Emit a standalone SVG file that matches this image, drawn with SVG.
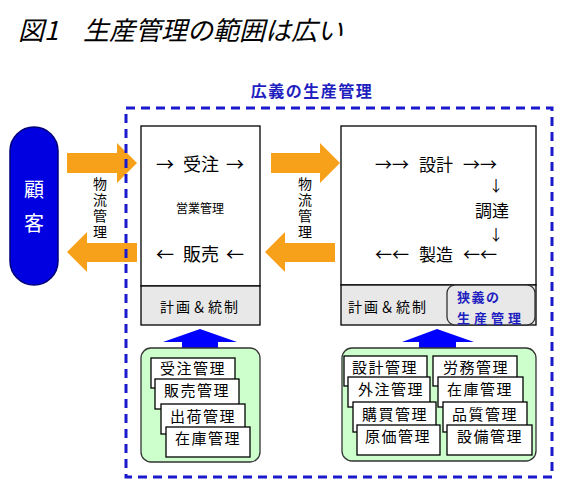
<svg xmlns="http://www.w3.org/2000/svg" width="567" height="481" viewBox="0 0 567 481">
<style>
text{font-family:"Noto Sans CJK JP","Liberation Sans",sans-serif;fill:#000}
.c{text-anchor:middle}
.box{fill:#fff;stroke:#000;stroke-width:1.3}
.plan{fill:#e8e8e8;stroke:#000;stroke-width:1.3}
.card{fill:#fff;stroke:#000;stroke-width:1.3}
.green{fill:#ccffcc;stroke:#333;stroke-width:1.3}
.orange{fill:#f7a11a}
.blueup{fill:#0000ff}
.ct{font-size:15px;letter-spacing:1.5px;text-anchor:middle}
.big{font-size:18px}
.mid{font-size:17px}
.arr{font-size:15px;text-anchor:middle}
.pl{font-size:14px;letter-spacing:2px;text-anchor:middle}
.blue{fill:#1f1fbf;font-weight:bold}
.v{font-size:14px;letter-spacing:2px;text-anchor:middle;writing-mode:vertical-rl}
</style>

<text x="18" y="40" style="font-size:26px;font-style:italic">図1<tspan x="83">生産管理の範囲は広い</tspan></text>
<text x="312" y="97" class="c blue" style="font-size:16px;letter-spacing:1.5px">広義の生産管理</text>

<g id="customer">
<rect x="10" y="127" width="48" height="158" rx="24" fill="#0000e0" stroke="#00007a" stroke-width="1.5"/>
<text x="34" y="197" class="c" style="font-size:20px;fill:#fff">顧</text>
<text x="34" y="231" class="c" style="font-size:20px;fill:#fff">客</text>
</g>

<g id="connectors">
<polygon class="orange" points="67,153 117,153 117,143 137,163 117,183 117,173 67,173"/>
<polygon class="orange" points="67,252 87,232 87,243 137,243 137,262 87,262 87,272"/>
<polygon class="orange" points="271,153 320,153 320,143 340,163 320,183 320,173 271,173"/>
<polygon class="orange" points="265,252 285,232 285,243 335,243 335,262 285,262 285,272"/>
<text class="v" x="100" y="209">物流管理</text>
<text class="v" x="305" y="209">物流管理</text>
<polygon class="blueup" points="200,329 237,342 218,342 218,348 182,348 182,342 163,342"/>
<polygon class="blueup" points="437,329 474,342 456,342 456,348 419,348 419,342 402,342"/>
</g>

<g id="sales">
<rect class="box" x="141" y="126" width="119" height="160"/>
<rect class="plan" x="141" y="286" width="119" height="39"/>
<text class="big c" y="171"><tspan x="165">→</tspan><tspan x="201">受注</tspan><tspan x="235">→</tspan></text>
<text x="200" y="213" class="c" style="font-size:12px">営業管理</text>
<text class="big c" y="261"><tspan x="165">←</tspan><tspan x="201">販売</tspan><tspan x="235">←</tspan></text>
<text x="200" y="312" class="pl">計画＆統制</text>
</g>

<g id="production">
<rect class="box" x="341" y="126" width="195" height="159"/>
<rect class="plan" x="341" y="285" width="195" height="40"/>
<text class="mid c" y="171"><tspan x="392">→→</tspan><tspan x="436">設計</tspan><tspan x="480">→→</tspan></text>
<text x="496" y="191" class="arr">↓</text>
<text x="492" y="217" class="mid c">調達</text>
<text x="496" y="240" class="arr">↓</text>
<text class="mid c" y="261"><tspan x="392">←←</tspan><tspan x="436">製造</tspan><tspan x="480">←←</tspan></text>
<text x="388" y="312" class="pl">計画＆統制</text>
<rect x="447" y="285" width="88" height="40" rx="8" fill="#e8e8e8" stroke="#333" stroke-width="1.3"/>
<text x="457" y="302" class="blue" style="font-size:13px;letter-spacing:1.5px">狭義の</text>
<text x="457" y="323" class="blue" style="font-size:13px;letter-spacing:4px">生産管理</text>
</g>

<g id="sales-functions">
<rect class="green" x="141" y="348" width="119" height="114" rx="10"/>
<rect class="card" x="151" y="358" width="84" height="30"/>
<text x="193" y="374" class="ct">受注管理</text>
<rect class="card" x="155" y="379" width="84" height="30"/>
<text x="197" y="396" class="ct">販売管理</text>
<rect class="card" x="161" y="404" width="84" height="30"/>
<text x="203" y="422" class="ct">出荷管理</text>
<rect class="card" x="166" y="427" width="84" height="30"/>
<text x="208" y="444" class="ct">在庫管理</text>
</g>

<g id="production-functions">
<rect class="green" x="342" y="348" width="194" height="113" rx="10"/>
<rect class="card" x="344" y="356" width="83" height="30"/>
<text x="385" y="373" class="ct">設計管理</text>
<rect class="card" x="348" y="377" width="82" height="30"/>
<text x="391" y="395" class="ct">外注管理</text>
<rect class="card" x="353" y="402" width="83" height="30"/>
<text x="395" y="420" class="ct">購買管理</text>
<rect class="card" x="357" y="425" width="83" height="30"/>
<text x="398" y="442" class="ct">原価管理</text>
<rect class="card" x="433" y="356" width="84" height="30"/>
<text x="476" y="373" class="ct">労務管理</text>
<rect class="card" x="438" y="377" width="85" height="30"/>
<text x="480" y="395" class="ct">在庫管理</text>
<rect class="card" x="443" y="402" width="84" height="30"/>
<text x="485" y="420" class="ct">品質管理</text>
<rect class="card" x="447" y="425" width="85" height="30"/>
<text x="490" y="442" class="ct">設備管理</text>
</g>

<g id="broad-scope">
<rect x="126" y="108" width="426" height="369" fill="none" stroke="#1a1acc" stroke-width="3" stroke-dasharray="9 6"/>
</g>
</svg>
